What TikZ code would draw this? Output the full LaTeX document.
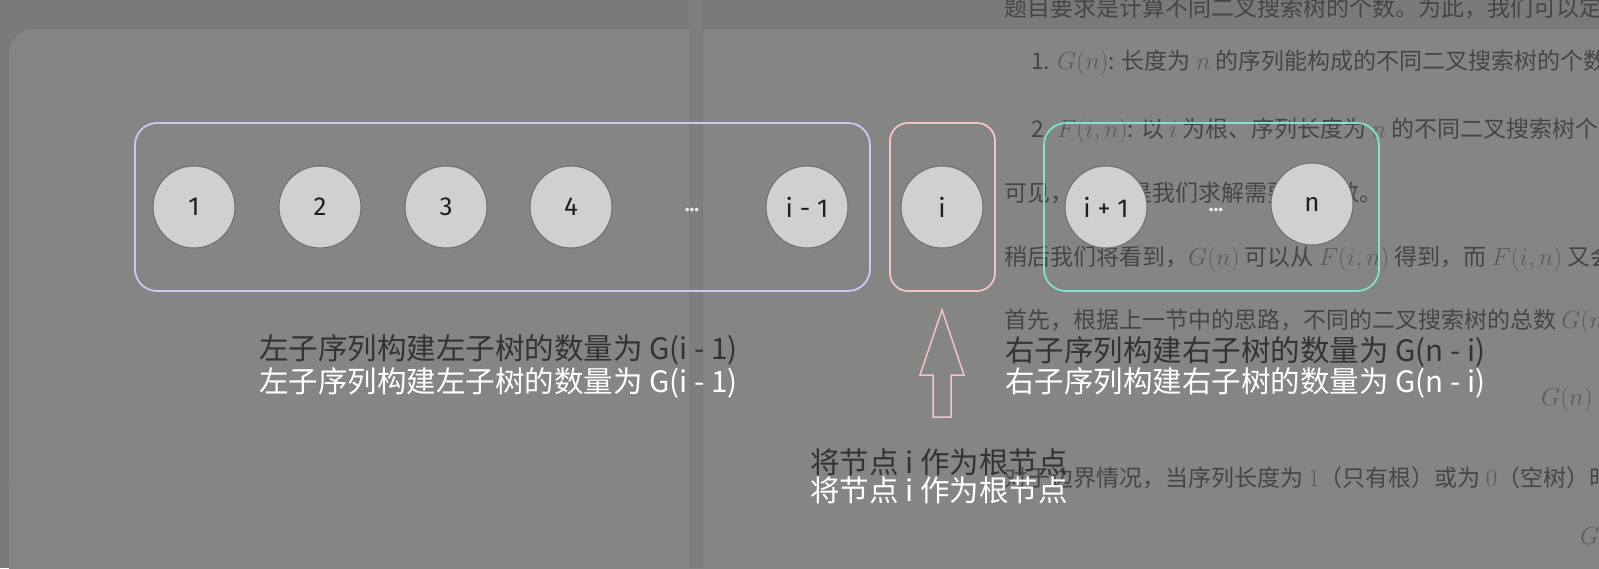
\documentclass[tikz,border=0pt]{standalone}
\usepackage{fontspec}
\newfontfamily\cjk{Noto Sans CJK SC}
\newfontfamily\numfont{Fira Sans}
\definecolor{bgtop}{HTML}{7A7A7A}
\definecolor{panel}{HTML}{858585}
\definecolor{stripe}{HTML}{7E7E7E}
\definecolor{sline}{HTML}{767676}
\definecolor{bgtext}{HTML}{454545}
\definecolor{bgmath}{HTML}{5C5C5C}
\definecolor{lav}{HTML}{CBC8F4}
\definecolor{pinkc}{HTML}{F4C4C4}
\definecolor{tealc}{HTML}{80E2CE}
\definecolor{circfill}{HTML}{D0D0D0}
\definecolor{circline}{HTML}{6E6E6E}
\definecolor{darklab}{HTML}{333333}
\begin{document}
\begin{tikzpicture}[x=1pt,y=-1pt,
  bgline/.style={anchor=west,inner sep=0pt,text=bgtext,font=\cjk\fontsize{23}{23}\selectfont},
  item/.style={circle,minimum size=82pt,inner sep=0pt,fill=circfill,draw=circline,line width=1pt,
     text=black!88,font=\numfont\fontsize{26}{26}\selectfont},
  dotsn/.style={inner sep=0pt,text=white!92!black,font=\numfont\bfseries\fontsize{20}{20}\selectfont},
  grp/.style={line width=1.8pt,rounded corners=22pt},
  lab/.style={anchor=west,inner sep=0pt,font=\cjk\fontsize{29.5}{29.5}\selectfont}]
\useasboundingbox (0,0) rectangle (1599,568);
\clip (0,0) rectangle (1599,568);
% page background
\fill[bgtop] (0,0) rectangle (1599,568);
\fill[panel,rounded corners=25pt] (9,29) rectangle (1680,640);
\fill[stripe] (689,0) rectangle (702,568);
\draw[sline,line width=0.6pt] (702,0) -- (702,568);
\draw[stripe,line width=0.8pt] (9,487) -- (663,487);
% background page text
\node[bgline] (t1) at (1004,8) {题目要求是计算不同二叉搜索树的个数。为此，我们可以定义两个函数：};
\node[bgline] (t2) at (1031,63) {1. \textcolor{bgmath}{$G(n)$}: 长度为 \textcolor{bgmath}{$n$} 的序列能构成的不同二叉搜索树的个数。};
\node[bgline] (t3) at (1031,131) {2. \textcolor{bgmath}{$F(i,n)$}: 以 \textcolor{bgmath}{$i$} 为根、序列长度为 \textcolor{bgmath}{$n$} 的不同二叉搜索树个数};
\node[bgline] (t4) at (1004,195) {可见，\textcolor{bgmath}{$G(n)$} 是我们求解需要的函数。};
\node[bgline] (t5) at (1004,259) {稍后我们将看到，\textcolor{bgmath}{$G(n)$} 可以从 \textcolor{bgmath}{$F(i,n)$} 得到，而 \textcolor{bgmath}{$F(i,n)$} 又会递归地依赖于};
\node[bgline] (t6) at (1004,322) {首先，根据上一节中的思路，不同的二叉搜索树的总数 \textcolor{bgmath}{$G(n)$}，};
\node[bgline,text=bgmath] (t7) at (1541,399) {$G(n)$};
\node[bgline] (t8) at (1004,478) {对于边界情况，当序列长度为 \textcolor{bgmath}{$1$}（只有根）或为 \textcolor{bgmath}{$0$}（空树）时，};
\node[bgline,text=bgmath] (t9) at (1580,538) {$G(0)$};
% groups
\draw[grp,lav] (135,123) rectangle (870,291);
\draw[grp,pinkc,rounded corners=18pt] (890,123) rectangle (995,291);
\draw[grp,tealc] (1044,123) rectangle (1379,291);
% nodes
\node[item] (n1) at (194,207) {1};
\node[item] (n2) at (320,207) {2};
\node[item] (n3) at (446,207) {3};
\node[item] (n4) at (571,207) {4};
\node[dotsn] (d1) at (692,210) {...};
\node[item] (nim) at (807,207) {i - 1};
\node[item] (ni) at (942,207) {i};
\node[item] (nip) at (1106,207) {i + 1};
\node[dotsn] (d2) at (1216,210) {...};
\node[item] (nn) at (1312,204) {n};
% hollow arrow
\coordinate (tip) at (942,310);
\draw[pinkc,line width=1.5pt,line join=miter]
  (tip) -- (964,375) -- (951,375) -- (951,417) -- (933,417) -- (933,375) -- (920,375) -- cycle;
% labels
\node[lab,text=darklab] (l1) at (259,350) {左子序列构建左子树的数量为 G(i - 1)};
\node[lab,text=white] (l2) at (259,383) {左子序列构建左子树的数量为 G(i - 1)};
\node[lab,text=darklab] (r1) at (1005,352) {右子序列构建右子树的数量为 G(n - i)};
\node[lab,text=white] (r2) at (1005,383) {右子序列构建右子树的数量为 G(n - i)};
\node[lab,text=darklab] (b1) at (810,462) {将节点 i 作为根节点};
\node[lab,text=white] (b2) at (810,490) {将节点 i 作为根节点};
\end{tikzpicture}
\end{document}
